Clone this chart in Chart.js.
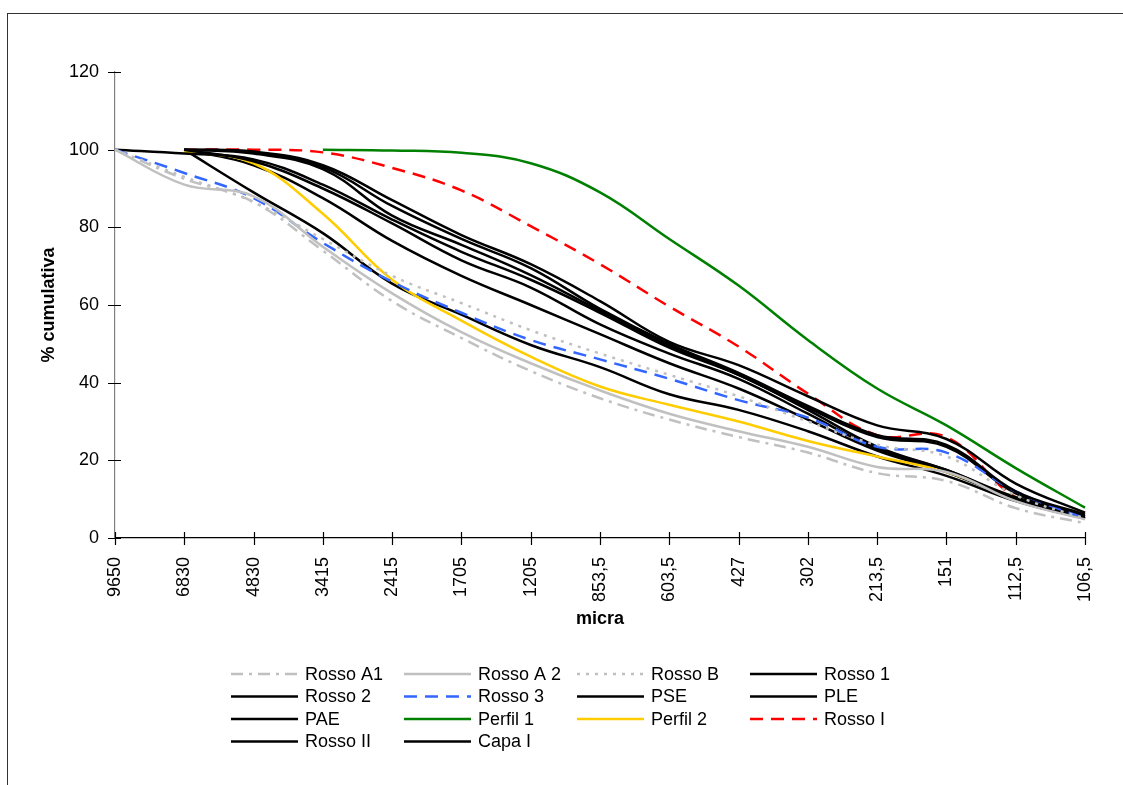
<!DOCTYPE html>
<html lang="it">
<head>
<meta charset="UTF-8">
<title>% cumulativa</title>
<script src="https://cdn.jsdelivr.net/npm/chart.js"></script>
<style>
  body { margin: 0; background: #fff; }
  #wrap { position: relative; width: 1123px; height: 785px; overflow: hidden; }
  .frame { position: absolute; left: 7px; top: 13px; width: 1300px; height: 900px; border: 1.5px solid #333; }
  canvas { position: absolute; left: 0; top: 0; }
</style>
</head>
<body>
<div id="wrap">
  <div class="frame"></div>
  <canvas id="curve" width="1123" height="785"></canvas>
</div>
<script>
// sieve openings (micra) and cumulative % passing
const micra = ['9650', '6830', '4830', '3415', '2415', '1705', '1205', '853,5', '603,5', '427', '302', '213,5', '151', '112,5', '106,5'];

const rossoA1  = [100, 92.5, 86.5, 74, 61, 51.5, 43, 36, 30.5, 26, 22, 16.7, 14.7, 7.7, 3.8];
const rossoA2  = [100, 91, 88, 75, 63, 53, 45, 38, 32, 27.5, 23.5, 18.3, 17, 9.5, 4.8];
const rossoB   = [100, 93, 86.5, 77, 67.5, 60.5, 53.5, 47.5, 42, 36.5, 30, 24, 21, 11, 5];
const rosso1   = [null, 100, 99.5, 96, 87, 78, 70.5, 61, 50.5, 44.5, 36.5, 29, 25.5, 14, 6.5];
const rosso2   = [null, 100, 99.3, 95.5, 85.5, 77, 69.5, 59, 50, 42.5, 34, 26.5, 24, 12, 6];
const rosso3   = [100, 94, 87.5, 76, 66, 58, 51, 46, 41, 35.5, 31, 23.5, 22, 12, 5];
const pse      = [null, 100, 99, 95, 83, 75.5, 67.7, 58.5, 49.5, 42, 33.5, 26, 23.5, 11.5, 5.5];
const ple      = [100, 99, 97.5, 91, 82, 73.7, 66.5, 58, 49, 42, 33, 23.5, 17.5, 10.5, 5.5];
const pae      = [null, 100, 97, 90, 81, 71.5, 64.5, 55, 47.5, 41, 32, 23, 17.5, 10, 5];
const perfil1  = [null, null, null, 100, 99.8, 99.2, 96.5, 89, 77, 65, 51, 38.5, 29, 18, 7.8];
const perfil2  = [null, 99.5, 96.5, 83.5, 66.5, 56, 46.7, 39, 34.3, 30, 25, 21, 17, 10.5, 6.3];
const rossoI   = [null, 100, 100, 99.3, 95.3, 89.5, 80.3, 70.5, 59.6, 49.3, 37.2, 26.5, 26, 10.5, 5];
const rossoII  = [null, 100, 96, 87.5, 76.5, 67.5, 60, 52.5, 45, 38.5, 30.5, 22.5, 17, 10, 5];
const capaI    = [null, 100, 89, 78.5, 65.5, 57.5, 49.7, 44, 37, 33, 27.5, 21, 16, 9.5, 5];

const yTicks = [0, 20, 40, 60, 80, 100, 120];

const FONT = 'Arial, "Liberation Sans", sans-serif';
Chart.defaults.font.family = FONT;
Chart.defaults.font.size = 18;
Chart.defaults.color = '#000';

function line(label, data, color, dash) {
  return {
    label: label,
    data: data,
    borderColor: color,
    backgroundColor: color,
    borderWidth: 2.5,
    borderDash: dash || [],
    pointRadius: 0,
    fill: false,
    tension: 0.4
  };
}

const datasets = [
  line('Rosso A1', rossoA1, '#c0c0c0', [12, 6, 3, 6]),
  line('Rosso A 2', rossoA2, '#c0c0c0'),
  line('Rosso B', rossoB, '#c0c0c0', [3, 6]),
  line('Rosso 1', rosso1, '#000'),
  line('Rosso 2', rosso2, '#000'),
  line('Rosso 3', rosso3, '#3366ff', [13, 8]),
  line('PSE', pse, '#000'),
  line('PLE', ple, '#000'),
  line('PAE', pae, '#000'),
  line('Perfil 1', perfil1, '#008000'),
  line('Perfil 2', perfil2, '#ffcc00'),
  line('Rosso I', rossoI, '#ff0000', [13, 8]),
  line('Rosso II', rossoII, '#000'),
  line('Capa I', capaI, '#000')
];

// small tick marks that cross both axes
const crossTicks = {
  id: 'crossTicks',
  beforeDatasetsDraw(chart) {
    const ctx = chart.ctx;
    const x = chart.scales.x, y = chart.scales.y;
    ctx.save();
    ctx.strokeStyle = '#000';
    ctx.lineWidth = 1.2;
    ctx.beginPath();
    micra.forEach((m, i) => {
      const px = Math.round(x.getPixelForValue(i)) + 0.5;
      ctx.moveTo(px, y.bottom - 6);
      ctx.lineTo(px, y.bottom + 7);
    });
    yTicks.forEach(v => {
      const py = Math.round(y.getPixelForValue(v)) + 0.5;
      ctx.moveTo(x.left - 7, py);
      ctx.lineTo(x.left + 6, py);
    });
    ctx.stroke();
    ctx.restore();
  }
};

// legend laid out in four columns under the plot
const gridLegend = {
  id: 'gridLegend',
  afterDraw(chart) {
    const ctx = chart.ctx;
    chart.data.datasets.forEach((ds, i) => {
      const col = i % 4, row = Math.floor(i / 4);
      const x = 231 + col * 173;
      const y = 674 + row * 22.5;
      ctx.save();
      ctx.strokeStyle = ds.borderColor;
      ctx.lineWidth = ds.borderWidth;
      ctx.setLineDash(ds.borderDash);
      ctx.beginPath();
      ctx.moveTo(x, y);
      ctx.lineTo(x + 67, y);
      ctx.stroke();
      ctx.setLineDash([]);
      ctx.fillStyle = '#000';
      ctx.font = '18px ' + FONT;
      ctx.textBaseline = 'middle';
      ctx.fillText(ds.label, x + 74, y + 1);
      ctx.restore();
    });
  }
};

new Chart(document.getElementById('curve'), {
  type: 'line',
  data: { labels: micra, datasets: datasets },
  plugins: [crossTicks, gridLegend],
  options: {
    responsive: false,
    animation: false,
    layout: { padding: { left: 0, right: 38, top: 72, bottom: 147 } },
    plugins: { legend: { display: false }, tooltip: { enabled: false } },
    scales: {
      x: {
        offset: false,
        grid: { display: false },
        border: { display: true, color: '#000', width: 1.2 },
        ticks: { autoSkip: false, minRotation: 90, maxRotation: 90, padding: 11 },
        title: { display: true, text: 'micra', font: { weight: 'bold', size: 18 }, padding: { top: 0, bottom: 8 } },
        afterFit(scale) { scale.height = 100; }
      },
      y: {
        min: 0,
        max: 120,
        grid: { display: false },
        border: { display: true, color: '#808080', width: 1.2 },
        ticks: { stepSize: 20, padding: 8 },
        title: { display: true, text: '% cumulativa', font: { weight: 'bold', size: 18 }, padding: { top: 38, bottom: 0 } },
        afterFit(scale) { scale.width = 115; }
      }
    }
  }
});
</script>
</body>
</html>
